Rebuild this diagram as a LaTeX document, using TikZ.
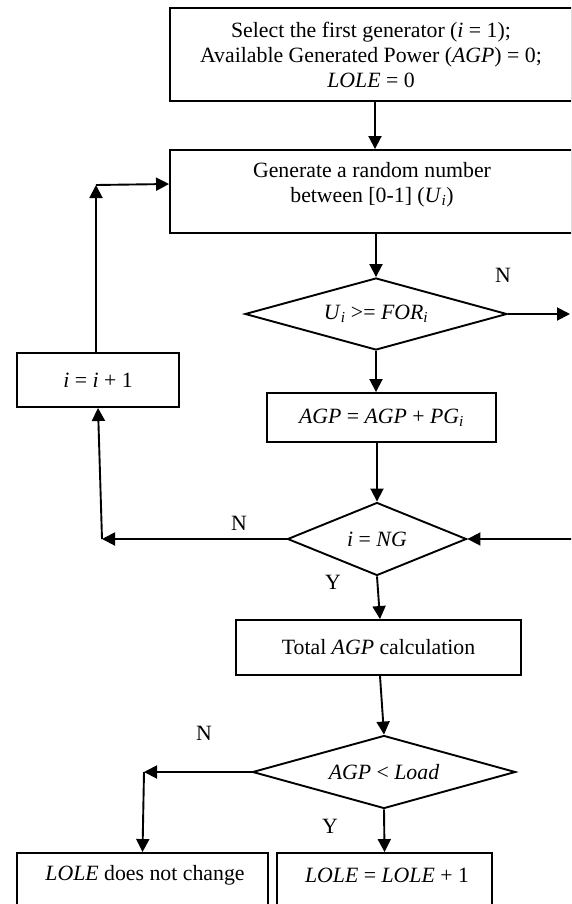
\documentclass[tikz,border=0pt]{standalone}
\usepackage{fontspec}
\setmainfont{Liberation Serif}
\usetikzlibrary{shapes.geometric,arrows.meta}
\newcommand{\iv}[1]{\textit{#1}}
\newcommand{\isub}[1]{\textsubscript{\textit{#1}}}
\begin{document}
\begin{tikzpicture}[x=1pt,y=-1pt,
  every node/.style={font=\fontsize{21.8}{25}\selectfont},
  box/.style={draw, line width=1.9pt, rectangle, inner sep=0pt},
  dec/.style={draw, line width=1.9pt, diamond, inner sep=0pt},
  txt/.style={align=center, inner sep=0pt},
  arr/.style={line width=1.9pt, -{Triangle[length=13pt,width=13pt]}},
  lbl/.style={inner sep=0pt}]
\useasboundingbox (0,0) rectangle (571,904);
\clip (0,0) rectangle (571,904);

% boxes
\node[box, align=center, minimum width=402pt, minimum height=93pt] (b1) at (371,54.5)
  {Select the first generator (\iv{i} = 1);\\Available Generated Power (\iv{AGP}) = 0;\\\iv{LOLE} = 0};
\node[box, minimum width=402pt, minimum height=83pt] (b2) at (371,191.5) {};
\node[txt] (t2) at (372,185) {Generate a random number\\between [0-1] (\iv{U}\isub{i})};
\node[dec, aspect=3.64, minimum width=262pt, minimum height=72pt] (d1) at (376,314)
  {\iv{U}\isub{i} >= \iv{FOR}\isub{i}};
\node[box, minimum width=229pt, minimum height=49pt] (b3) at (381.5,417.5)
  {\iv{AGP} = \iv{AGP} + \iv{PG}\isub{i}};
\node[dec, aspect=2.45, minimum width=179pt, minimum height=73pt] (d2) at (377,539)
  {\iv{i} = \iv{NG}};
\node[box, minimum width=162pt, minimum height=54pt] (bi) at (98,380)
  {\iv{i} = \iv{i} + 1};
\node[box, minimum width=285pt, minimum height=55pt] (b4) at (378.5,647.5)
  {Total \iv{AGP} calculation};
\node[dec, aspect=3.6, minimum width=263pt, minimum height=73pt] (d3) at (384,772)
  {\iv{AGP} < \iv{Load}};
\node[box, minimum width=251pt, minimum height=72pt] (b5) at (142.5,889) {};
\node[txt] (t5) at (145,875) {\iv{LOLE} does not change};
\node[box, minimum width=215pt, minimum height=72pt] (b6) at (384.5,889) {};
\node[txt] (t6) at (387,875) {\iv{LOLE} = \iv{LOLE} + 1};

% labels
\node[lbl] (n1) at (503,275) {N};
\node[lbl] (n2) at (239,523) {N};
\node[lbl] (y1) at (333,582) {Y};
\node[lbl] (n3) at (204,733) {N};
\node[lbl] (y2) at (330,826) {Y};

% free ends and corners
\coordinate (e1) at (570,314);
\coordinate (e2) at (572,539);
\coordinate (c1) at (102,539);
\coordinate (c2) at (96,185);
\coordinate (c3) at (144,772);

% connectors
\draw[arr] ([xshift=4]b1.south) -- ([xshift=4]b2.north);
\draw[arr] (d1.north |- b2.south) -- (d1.north);
\draw[arr] (d1.east) -- (e1);
\draw[arr] (d1.south) -- (d1.south |- b3.north);
\draw[arr] (d2.north |- b3.south) -- (d2.north);
\draw[arr] (e2) -- (d2.east);
\draw[arr] (d2.west) -- (c1);
\draw[arr] (c1) -- (bi.south);
\draw[arr] ([xshift=-2]bi.north) -- (c2);
\draw[arr] (c2) -- ([yshift=7.5]b2.west);
\draw[arr] (d2.south) -- ([xshift=1.5]b4.north);
\draw[arr] ([xshift=1.5]b4.south) -- (d3.north);
\draw[arr] (d3.west) -- (c3);
\draw[arr] (c3) -- (b5.north);
\draw[arr] (d3.south) -- (b6.north);
\end{tikzpicture}
\end{document}
